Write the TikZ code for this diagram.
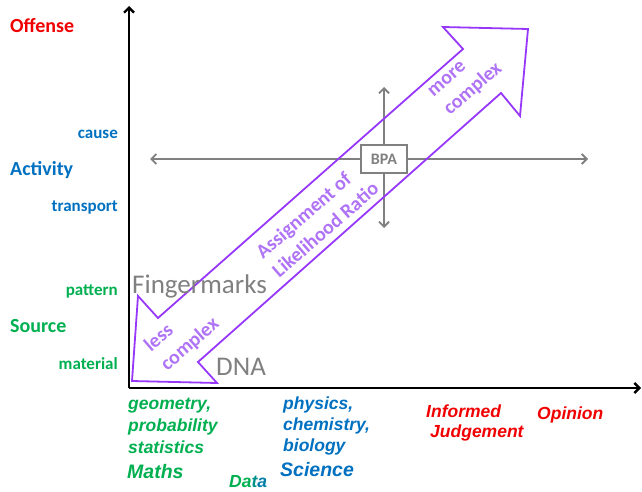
\documentclass[tikz,border=0pt]{standalone}
\usepackage{fontspec}
\setmainfont{Carlito}
\newfontfamily\arialfont{Liberation Sans}
\usetikzlibrary{arrows.meta}
\definecolor{offred}{RGB}{240,0,0}
\definecolor{actblue}{RGB}{0,112,192}
\definecolor{srcgreen}{RGB}{0,176,80}
\definecolor{bpagray}{RGB}{128,128,128}
\definecolor{lrpurple}{RGB}{150,55,250}
\definecolor{lrtext}{RGB}{175,115,245}

\begin{document}
\begin{tikzpicture}[x=1pt,y=-1pt,
    axis/.style={line width=2.4pt,-{Straight Barb[length=5pt,width=10pt]}},
    cross/.style={bpagray,line width=1.8pt,{Straight Barb[length=5pt,width=10pt]}-{Straight Barb[length=5pt,width=10pt]}},
    level/.style={font=\bfseries\fontsize{20}{24}\selectfont,inner sep=0pt},
    sublevel/.style={font=\bfseries\fontsize{17}{20}\selectfont,inner sep=0pt,anchor=base east},
    field/.style={font=\arialfont\bfseries\itshape\fontsize{17.5}{21}\selectfont,inner sep=0pt,anchor=base west},
    bigfield/.style={font=\arialfont\bfseries\itshape\fontsize{19.5}{23}\selectfont,inner sep=0pt,anchor=base west},
    trace/.style={bpagray,font=\fontsize{27}{32}\selectfont,inner sep=0pt,anchor=base west},
    lrlabel/.style={lrtext,font=\bfseries\fontsize{20}{25}\selectfont,rotate=41,align=left,inner sep=0pt}]
\useasboundingbox (0,0) rectangle (642,492);

% axes
\coordinate (O) at (129,388);
\coordinate (ytop) at (129,6);
\coordinate (xend) at (641,388);
\draw[axis] (O) -- (ytop);
\draw[axis] (O) -- (xend);

% BPA cross
\coordinate (cleft) at (150,159);
\coordinate (cright) at (588,159);
\coordinate (ctop) at (384,87);
\coordinate (cbot) at (384,228);
\draw[cross] (cleft) -- (cright);
\draw[cross] (ctop) -- (cbot);
\node[draw=bpagray,line width=1.8pt,fill=white,minimum width=46pt,minimum height=28pt,inner sep=0pt,
      text=bpagray,font=\bfseries\fontsize{16}{19}\selectfont] (bpa) at (384,159) {BPA};

% double arrow
\draw[lrpurple,line width=1.8pt,line join=miter]
    (132,381) -- (138,296) -- (158,318) -- (463,49) -- (443,27) -- (528,29)
    -- (520,116) -- (501,93) -- (198,362) -- (217,383) -- cycle;

\node[lrlabel] (lr) at (317,220) {Assignment of\\Likelihood Ratio};
\node[lrlabel] (more) at (466,81) {more\\complex};
\node[lrlabel] (less) at (182,335) {less\\complex};

% y levels
\node[level,text=offred,anchor=base west] (offense) at (10,33) {Offense};
\node[sublevel,text=actblue] (cause) at (118,139) {cause};
\node[level,text=actblue,anchor=base west] (activity) at (10,175) {Activity};
\node[sublevel,text=actblue] (transport) at (118,211) {transport};
\node[sublevel,text=srcgreen] (pattern) at (118,295) {pattern};
\node[level,text=srcgreen,anchor=base west] (source) at (10,332) {Source};
\node[sublevel,text=srcgreen] (material) at (118,369) {material};

\node[trace] (finger) at (132,293) {Fingermarks};
\node[trace] (dna) at (216,375) {DNA};

% x levels
\node[field,text=srcgreen] (geo) at (128,409) {geometry,};
\node[field,text=srcgreen] (prob) at (128,431) {probability};
\node[field,text=srcgreen] (stat) at (128,453) {statistics};
\node[bigfield,text=srcgreen] (maths) at (127,478) {Maths};
\node[field] (data) at (229,487) {\textcolor{srcgreen}{Da}\textcolor{srcgreen!50!actblue}{t}\textcolor{actblue!80!srcgreen}{a}};
\node[field,text=actblue] (phys) at (283,409) {physics,};
\node[field,text=actblue] (chem) at (283,430) {chemistry,};
\node[field,text=actblue] (bio) at (283,451) {biology};
\node[bigfield,text=actblue] (science) at (280,476) {Science};
\node[field,text=offred] (informed) at (426,417) {Informed};
\node[field,text=offred] (judge) at (430,437) {Judgement};
\node[field,text=offred] (opinion) at (537,419) {Opinion};

\end{tikzpicture}
\end{document}
